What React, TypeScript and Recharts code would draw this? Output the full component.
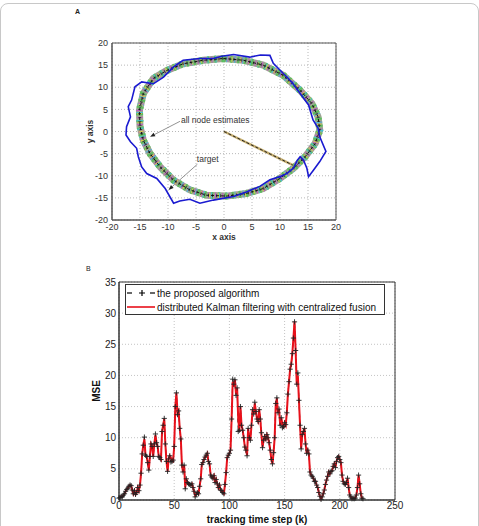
import React from "react";
import {
  ScatterChart,
  Scatter,
  LineChart,
  Line,
  XAxis,
  YAxis,
  CartesianGrid,
  ReferenceArea,
  ReferenceLine,
  Legend,
  Label,
} from "recharts";

const FONT = '"Liberation Sans", Arial, Helvetica, sans-serif';

// Panel A: target path and the node estimates in the plane
const targetX = [
  -0.4, 1.7, 4.6, 6.5, 8.2, 8.8, 10.6, 12.1, 13.6, 15.1, 15.9, 16.8, 17.1, 18.2, 17.1, 16.0, 15.1, 14.8,
  14.2, 13.6, 13.1, 12.4, 11.2, 10.0, 8.2, 6.4, 4.1, 1.7, -1.9, -4.3, -6.1, -7.9, -9.0, -10.5, -12.0,
  -13.8, -14.7, -15.3, -15.6, -16.7, -17.5, -17.4, -16.7, -17.1, -16.5, -15.9, -14.7, -12.6, -10.8,
  -9.0, -7.3, -4.3, -1.9, -0.4,
];
const targetY = [
  17.0, 17.4, 16.8, 17.3, 17.2, 15.4, 13.1, 11.2, 8.6, 6.0, 2.6, 0.8, -1.2, -4.5, -6.8, -8.7, -10.2, -8.3,
  -6.5, -5.7, -6.5, -8.3, -9.5, -10.2, -10.9, -12.4, -13.6, -14.7, -15.5, -16.2, -15.3, -15.7, -16.2,
  -12.9, -10.6, -9.5, -8.0, -5.7, -3.8, -2.3, -0.8, 1.1, 3.3, 5.6, 7.1, 10.1, 11.2, 10.8, 12.3, 14.6,
  16.1, 16.5, 16.5, 17.0,
];
const estX = [
  -0.1, 3.5, 7.0, 10.6, 13.6, 15.7, 16.8, 17.1, 16.3, 14.5, 12.4, 10.0, 7.0, 4.0, 0.5, -3.1, -6.1,
  -9.0, -11.4, -13.2, -14.4, -15.0, -15.1, -14.4, -12.6, -10.2, -7.3, -3.7, -0.1,
];
const estY = [
  16.5, 16.1, 15.0, 12.7, 9.3, 6.3, 3.3, 0.3, -2.7, -5.7, -8.3, -10.6, -12.9, -14.0, -14.6, -14.4,
  -13.2, -11.0, -8.0, -5.0, -2.0, 1.1, 4.8, 8.6, 12.0, 13.8, 15.3, 16.1, 16.5,
];
const initX = [0, 12.3];
const initY = [0, -7.6];
const planeTicks = [-20, -15, -10, -5, 0, 5, 10, 15, 20];

// Panel B: mean squared error per tracking step
const mseProposed = [
  0.3, 0.4, 0.6, 0.5, 0.8, 1.0, 1.4, 1.7, 1.9, 2.2,
  2.4, 2.3, 1.6, 1.0, 1.5, 0.9, 1.2, 2.0, 1.5, 2.4,
  4.3, 7.4, 8.8, 10.1, 7.2, 7.0, 6.0, 4.8, 7.0, 9.0,
  8.6, 7.0, 9.0, 10.6, 9.2, 8.6, 7.0, 6.8, 6.5, 11.0,
  12.0, 13.1, 9.0, 6.2, 4.6, 6.6, 7.1, 6.1, 6.2, 6.4,
  8.6, 15.0, 17.2, 13.7, 14.3, 11.5, 9.8, 5.6, 4.5, 5.6,
  1.8, 3.4, 2.8, 2.6, 2.5, 2.4, 2.6, 2.0, 1.4, 0.5,
  0.9, 1.2, 1.0, 2.2, 3.4, 5.7, 6.0, 6.5, 6.9, 7.2,
  7.5, 6.2, 5.8, 4.0, 3.7, 3.5, 3.9, 2.8, 3.3, 2.6,
  2.0, 2.4, 1.6, 1.5, 1.2, 1.0, 2.5, 4.4, 6.8, 7.2,
  7.5, 8.0, 13.0, 19.4, 18.6, 19.3, 16.8, 18.0, 11.0, 11.2,
  15.0, 12.0, 11.2, 10.0, 8.5, 8.0, 7.1, 11.5, 10.0, 9.6,
  12.0, 14.5, 13.8, 15.7, 14.2, 13.0, 12.6, 14.5, 13.0, 10.8,
  8.4, 9.6, 10.2, 9.8, 10.5, 10.0, 9.2, 8.0, 6.5, 5.8,
  7.6, 10.0, 15.5, 16.4, 14.0, 14.6, 12.0, 13.2, 11.6, 11.8,
  12.4, 12.1, 14.0, 17.0, 19.0, 21.0, 21.8, 23.5, 26.0, 28.6,
  24.0, 18.6, 20.4, 16.0, 12.0, 8.2, 10.5, 11.0, 11.5, 9.0,
  7.5, 8.0, 7.4, 4.5, 4.0, 3.8, 3.5, 3.0, 3.0, 2.4,
  2.0, 1.2, 0.6, 0.1, 0.5, 1.0, 1.6, 2.5, 3.2, 3.8,
  4.5, 4.2, 4.6, 4.7, 5.4, 5.8, 5.2, 6.2, 6.8, 7.0,
  6.5, 6.0, 4.0, 3.0, 2.6, 2.5, 2.8, 3.5, 2.0, 0.8,
  0.5, 0.2, 0.3, 0.2, 0.3, 0.8, 2.0, 4.0, 2.6, 1.0,
  0.3, 0.2,
];
const mseKalman = [
  0.3, 0.4, 0.6, 0.5, 0.8, 1.0, 1.4, 1.7, 1.9, 2.2,
  2.4, 2.3, 1.6, 1.0, 1.5, 0.9, 1.2, 2.0, 1.5, 2.4,
  4.3, 7.4, 8.8, 9.8, 7.2, 7.0, 6.0, 4.8, 7.0, 9.0,
  8.6, 7.0, 9.0, 10.4, 9.2, 8.6, 7.0, 6.8, 6.5, 11.0,
  12.0, 13.0, 9.0, 6.2, 4.6, 6.6, 7.1, 6.8, 6.3, 6.2,
  8.6, 15.0, 17.2, 14.0, 14.3, 11.5, 9.8, 5.6, 4.5, 5.6,
  2.0, 3.4, 2.8, 2.6, 2.5, 2.4, 2.6, 2.0, 1.4, 0.7,
  0.9, 1.2, 1.0, 2.2, 3.4, 5.7, 6.0, 6.5, 6.9, 7.2,
  7.5, 6.2, 5.8, 4.0, 3.7, 3.5, 3.9, 2.8, 3.3, 2.6,
  2.0, 2.4, 1.6, 1.5, 1.2, 1.0, 2.5, 4.4, 6.8, 7.2,
  7.5, 8.0, 13.0, 19.0, 18.2, 19.3, 17.0, 18.0, 13.0, 11.0,
  15.0, 12.0, 11.2, 10.0, 8.5, 8.0, 7.2, 11.5, 10.0, 9.6,
  12.0, 14.5, 13.8, 15.5, 14.2, 13.0, 12.6, 14.5, 13.0, 10.5,
  8.5, 9.6, 10.2, 9.8, 10.5, 10.0, 9.2, 8.0, 6.5, 5.8,
  7.6, 10.0, 15.5, 16.3, 14.0, 14.6, 12.0, 13.2, 12.2, 11.5,
  12.4, 12.0, 14.0, 17.0, 19.0, 21.0, 21.8, 23.5, 26.0, 28.7,
  24.0, 18.5, 20.0, 16.0, 12.0, 8.3, 10.5, 11.0, 11.5, 9.0,
  7.5, 8.0, 7.4, 4.5, 4.0, 3.8, 3.5, 3.0, 3.0, 2.4,
  2.0, 1.2, 0.6, 0.2, 0.5, 1.0, 1.6, 2.5, 3.2, 3.8,
  4.5, 4.2, 4.6, 4.7, 5.4, 5.8, 5.2, 6.2, 6.8, 7.0,
  6.5, 6.0, 4.0, 3.0, 2.6, 2.5, 2.8, 3.5, 2.0, 0.8,
  0.5, 0.2, 0.3, 0.2, 0.3, 0.8, 2.0, 4.0, 2.6, 1.0,
  0.3, 0.2,
];
const stepTicks = [0, 50, 100, 150, 200, 250];
const mseTicks = [0, 5, 10, 15, 20, 25, 30, 35];

const toPoints = (xs: number[], ys: number[]) => xs.map((x, i) => ({ x, y: ys[i] }));
const targetPts = toPoints(targetX, targetY);
const estPts = toPoints(estX, estY);
const initPts = toPoints(initX, initY);
const mseRows = mseKalman.map((v, k) => ({ k, kalman: v, proposed: mseProposed[k] }));

const noMarker = () => <g />;

// the estimate band is drawn as stacked strokes: a base and several
// dash patterns in the node colours, with the dark mean path on top
const bandLayers = [
  { stroke: "#9aa890", strokeWidth: 7 },
  { stroke: "#5cbf5c", strokeWidth: 7, strokeDasharray: "2 5" },
  { stroke: "#c45ac4", strokeWidth: 6, strokeDasharray: "1 6", strokeDashoffset: 3 },
  { stroke: "#48c2d0", strokeWidth: 7, strokeDasharray: "1 7", strokeDashoffset: 5 },
  { stroke: "#d8cc48", strokeWidth: 5, strokeDasharray: "1 8", strokeDashoffset: 1 },
  { stroke: "#404040", strokeWidth: 3, strokeDasharray: "1 3", strokeDashoffset: 2 },
  { stroke: "#111", strokeWidth: 1, strokeDasharray: "3 2" },
];

// arrow with a filled head at (x2, y2) and a text next to its tail
const arrowShape = (text: string, dx: number, dy: number) => (props: any) => {
  const { x1, y1, x2, y2 } = props;
  const a = Math.atan2(y2 - y1, x2 - x1);
  const bx = x2 - 5 * Math.cos(a);
  const by = y2 - 5 * Math.sin(a);
  const sx = 2 * Math.sin(a);
  const sy = 2 * Math.cos(a);
  return (
    <g>
      <line x1={x1} y1={y1} x2={bx} y2={by} stroke="#777" strokeWidth={0.8} />
      <polygon points={`${x2},${y2} ${bx - sx},${by + sy} ${bx + sx},${by - sy}`} fill="#222" />
      <text x={x1 + dx} y={y1 + dy} fontSize={8.5} fill="#333" fontFamily={FONT}>
        {text}
      </text>
    </g>
  );
};

const renderPlus = (p: any) => {
  const { cx, cy, index } = p;
  if (cx == null || cy == null) return <g key={index} />;
  return (
    <path
      key={index}
      d={`M${cx - 2.6},${cy}H${cx + 2.6}M${cx},${cy - 2.6}V${cy + 2.6}`}
      stroke="#222"
      strokeWidth={0.9}
      fill="none"
    />
  );
};

const MseLegend = () => (
  <div
    style={{
      boxSizing: "border-box",
      width: 260,
      height: 31,
      border: "1px solid #333",
      background: "#fff",
      fontFamily: FONT,
      fontSize: 10,
      color: "#111",
      paddingTop: 1,
    }}
  >
    <div style={{ display: "flex", alignItems: "center", height: 14 }}>
      <svg width={31} height={10} style={{ flex: "none" }}>
        <line x1={1} y1={5} x2={6} y2={5} stroke="#000" strokeWidth={1.2} />
        <path d="M13,5H19M16,2V8" stroke="#000" strokeWidth={1.2} />
        <line x1={24} y1={5} x2={29} y2={5} stroke="#000" strokeWidth={1.2} />
      </svg>
      <span>the proposed algorithm</span>
    </div>
    <div style={{ display: "flex", alignItems: "center", height: 14 }}>
      <svg width={31} height={10} style={{ flex: "none" }}>
        <line x1={1} y1={5} x2={29} y2={5} stroke="#e8101a" strokeWidth={1.6} />
      </svg>
      <span>distributed Kalman filtering with centralized fusion</span>
    </div>
  </div>
);

const tickA = { fontSize: 9, fill: "#333", fontFamily: FONT };
const tickB = { fontSize: 10, fill: "#222", fontFamily: FONT };

export default function App() {
  return (
    <div
      style={{
        position: "absolute",
        left: 0,
        top: 0,
        width: 479,
        height: 526,
        overflow: "hidden",
        background: "#fff",
        fontFamily: FONT,
      }}
    >
      <div
        style={{
          position: "absolute",
          left: 0,
          top: 3,
          width: 477,
          height: 600,
          border: "1px solid #c8c8c8",
          borderRadius: 8,
        }}
      />
      <div style={{ position: "absolute", left: 75, top: 8, fontSize: 7, fontWeight: "bold", color: "#222" }}>A</div>
      <div style={{ position: "absolute", left: 86, top: 265, fontSize: 7, color: "#222" }}>B</div>

      <div style={{ position: "absolute", left: 0, top: 0 }}>
        <ScatterChart width={479} height={260} margin={{ top: 43, right: 143, bottom: 10, left: 0 }}>
          <CartesianGrid stroke="#b8b8b8" strokeDasharray="1 2" />
          <XAxis
            type="number"
            dataKey="x"
            domain={[-20, 20]}
            ticks={planeTicks}
            interval={0}
            height={30}
            tickSize={2}
            tickMargin={2}
            tickLine={false}
            axisLine={{ stroke: "#555" }}
            tick={tickA}
          >
            <Label
              value="x axis"
              position="insideBottom"
              offset={10}
              style={{ fontSize: 8.5, fontWeight: "bold", fill: "#333", fontFamily: FONT }}
            />
          </XAxis>
          <YAxis
            type="number"
            dataKey="y"
            domain={[-20, 20]}
            ticks={planeTicks}
            interval={0}
            width={112}
            tickSize={2}
            tickMargin={2}
            tickLine={false}
            axisLine={{ stroke: "#555" }}
            tick={tickA}
          >
            <Label
              value="y axis"
              angle={-90}
              position="insideLeft"
              offset={90}
              style={{ fontSize: 8.5, fontWeight: "bold", fill: "#333", fontFamily: FONT, textAnchor: "middle" }}
            />
          </YAxis>
          <ReferenceArea x1={-20} x2={20} y1={-20} y2={20} fill="none" stroke="#555" strokeWidth={1} />

          {bandLayers.map((layer, i) => (
            <Scatter key={`band-${i}`} data={estPts} shape={noMarker} isAnimationActive={false} line={layer} />
          ))}

          <Scatter data={initPts} shape={noMarker} isAnimationActive={false}
            line={{ stroke: "#c8b070", strokeWidth: 2.5 }} />
          <Scatter data={initPts} shape={noMarker} isAnimationActive={false}
            line={{ stroke: "#222", strokeWidth: 1, strokeDasharray: "3 2" }} />

          <Scatter data={targetPts} shape={noMarker} isAnimationActive={false}
            line={{ stroke: "#1a1ad0", strokeWidth: 1.6 }} />

          <ReferenceLine
            segment={[{ x: -7.86, y: 2.3 }, { x: -13.2, y: -1.2 }]}
            shape={arrowShape("all node estimates", 1, 2)}
          />
          <ReferenceLine
            segment={[{ x: -4.76, y: -7.4 }, { x: -9.9, y: -13.2 }]}
            shape={arrowShape("target", -0.5, -2)}
          />
        </ScatterChart>
      </div>

      <div style={{ position: "absolute", left: 0, top: 260 }}>
        <LineChart width={479} height={266} data={mseRows} margin={{ top: 22, right: 84, bottom: 2, left: 0 }}>
          <CartesianGrid stroke="#c4c4c4" strokeDasharray="1 2" />
          <XAxis
            type="number"
            dataKey="k"
            domain={[0, 250]}
            ticks={stepTicks}
            interval={0}
            height={24}
            tickSize={2}
            tickMargin={0}
            tickLine={false}
            axisLine={{ stroke: "#333" }}
            tick={tickB}
          >
            <Label
              value="tracking time step (k)"
              position="insideBottom"
              offset={1}
              style={{ fontSize: 10, fontWeight: "bold", fill: "#111", fontFamily: FONT }}
            />
          </XAxis>
          <YAxis
            type="number"
            domain={[0, 35]}
            ticks={mseTicks}
            interval={0}
            width={119}
            tickSize={2}
            tickMargin={1}
            tickLine={false}
            axisLine={{ stroke: "#333" }}
            tick={tickB}
          >
            <Label
              value="MSE"
              angle={-90}
              position="insideLeft"
              offset={96}
              style={{ fontSize: 10, fontWeight: "bold", fill: "#111", fontFamily: FONT, textAnchor: "middle" }}
            />
          </YAxis>
          <ReferenceArea x1={0} x2={250} y1={0} y2={35} fill="none" stroke="#333" strokeWidth={1} />
          <Line
            dataKey="proposed"
            stroke="#000"
            strokeWidth={1}
            strokeDasharray="4 3"
            dot={renderPlus}
            activeDot={false}
            isAnimationActive={false}
          />
          <Line
            dataKey="kalman"
            stroke="#e8101a"
            strokeWidth={2}
            dot={false}
            activeDot={false}
            isAnimationActive={false}
          />
          <Legend
            layout="horizontal"
            verticalAlign="middle"
            align="center"
            content={MseLegend}
            wrapperStyle={{ left: 125, top: 24, width: 260, height: 31 }}
          />
        </LineChart>
      </div>
    </div>
  );
}
